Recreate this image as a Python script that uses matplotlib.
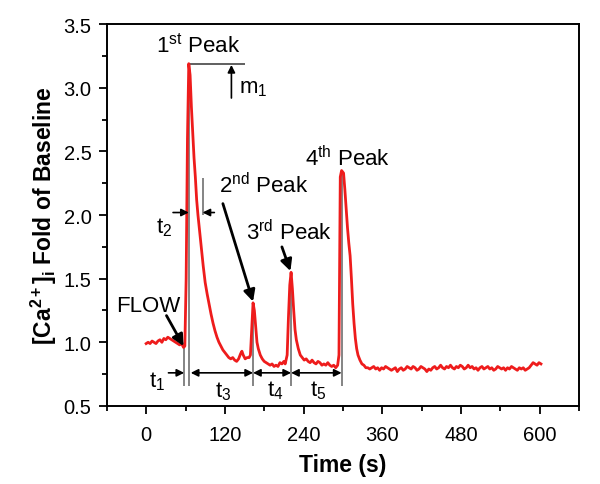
import numpy as np
import matplotlib
matplotlib.use("Agg")
import matplotlib.pyplot as plt
from matplotlib.ticker import MultipleLocator

plt.rcParams['font.family'] = ['Liberation Sans', 'DejaVu Sans']
plt.rcParams['mathtext.fontset'] = 'custom'
plt.rcParams['mathtext.rm'] = 'Liberation Sans'
plt.rcParams['mathtext.it'] = 'Liberation Sans'
plt.rcParams['mathtext.bf'] = 'Liberation Sans:bold'

# ---- data (time in s, [Ca2+]i fold of baseline) ----
time_early = [0, 3, 6, 9, 12, 15, 18, 21, 24, 27, 30, 33, 36, 39, 42, 45, 48, 51, 54, 57, 59,
              61, 63, 65, 67, 69, 71, 73, 75, 77, 79, 81, 83, 85, 87, 90, 93, 96, 99, 102, 105,
              108, 111, 114, 117, 120, 123, 126, 129, 132, 135, 138, 141, 144, 146, 148, 151,
              154, 157, 159, 161, 163, 165, 167, 169, 171, 174, 177, 180, 183, 186, 189, 192,
              195, 198, 201, 204, 207, 210, 212, 215, 217, 219, 221, 223, 225, 227, 229, 232,
              235, 238, 241, 244, 247, 250, 253, 256, 259, 262, 265, 268, 271, 274, 277, 280,
              283, 286, 289, 292, 294, 295, 296, 298, 301, 303, 305, 307, 309, 311, 313, 315,
              317, 319, 321, 323, 326, 329, 332, 335]
ratio_early = [0.99, 1.00, 0.99, 1.01, 1.00, 0.99, 1.01, 1.02, 1.00, 1.03, 1.02, 1.04, 1.03, 1.02,
               1.01, 1.00, 0.99, 0.98, 0.99, 0.96, 0.97,
               1.50, 2.60, 3.19, 3.10, 2.85, 2.65, 2.45, 2.30, 2.12, 2.00, 1.90, 1.80, 1.70, 1.60,
               1.47, 1.38, 1.30, 1.22, 1.15, 1.09, 1.04, 1.00, 0.97, 0.94, 0.92, 0.90, 0.88, 0.87,
               0.88, 0.86, 0.85, 0.87, 0.91, 0.93, 0.90, 0.87, 0.88, 0.88, 0.90, 1.10, 1.31, 1.25,
               1.12, 1.00, 0.95, 0.90, 0.87, 0.85, 0.84, 0.83, 0.82, 0.83, 0.81, 0.82, 0.81, 0.84,
               0.83, 0.85, 0.83, 0.90, 1.20, 1.45, 1.55, 1.42, 1.25, 1.10, 1.02, 0.95, 0.90, 0.88,
               0.86, 0.87, 0.85, 0.84, 0.86, 0.84, 0.83, 0.85, 0.84, 0.82, 0.83, 0.82, 0.84, 0.82,
               0.81, 0.82, 0.80, 0.82, 0.90, 1.60, 2.30, 2.35, 2.33, 2.20, 2.05, 1.90, 1.78, 1.68,
               1.50, 1.30, 1.15, 1.03, 0.95, 0.90, 0.86, 0.83, 0.82, 0.80]
time_late = list(range(338, 603, 3))
ratio_late = [0.80, 0.79, 0.80, 0.81, 0.79, 0.80, 0.78, 0.80, 0.79, 0.81,
              0.80, 0.79, 0.78, 0.79, 0.80, 0.77, 0.79, 0.80, 0.78, 0.79,
              0.81, 0.80, 0.79, 0.81, 0.80, 0.78, 0.79, 0.81, 0.80, 0.79,
              0.77, 0.79, 0.78, 0.80, 0.81, 0.79, 0.80, 0.82, 0.80, 0.79,
              0.81, 0.80, 0.82, 0.80, 0.79, 0.81, 0.80, 0.82, 0.81, 0.79,
              0.80, 0.82, 0.80, 0.81, 0.79, 0.80, 0.78, 0.80, 0.81, 0.79,
              0.80, 0.81, 0.79, 0.80, 0.78, 0.79, 0.81, 0.80, 0.79, 0.80,
              0.78, 0.80, 0.79, 0.81, 0.80, 0.79, 0.78, 0.80, 0.79, 0.80,
              0.78, 0.79, 0.80, 0.82, 0.84, 0.83, 0.82, 0.84, 0.83]

# event markers
flow_t = 58
peak_t = [66, 163, 221, 298]
peak_v = [3.19, 1.31, 1.55, 2.35]
half_t = 87
xticks = [0, 120, 240, 360, 480, 600]
yticks = [0.5, 1.0, 1.5, 2.0, 2.5, 3.0, 3.5]

time = time_early + time_late
ratio = ratio_early + ratio_late

fig = plt.figure(figsize=(6, 4.85), dpi=100)
ax = fig.add_axes([0.178, 0.161, 0.787, 0.787])

gray = '#707070'
line_bot = 0.66
ax.vlines([flow_t] + peak_t, [0.96] + peak_v, line_bot, color=gray, lw=1.2, zorder=1)
ax.vlines(half_t, 2.0, 2.29, color=gray, lw=1.2, zorder=1)

ax.plot(time, ratio, color='#ee1c1c', lw=2, zorder=3)

# m1 marker
ax.hlines(peak_v[0], peak_t[0], 151, color='#444444', lw=1.2, zorder=2)
ap = dict(arrowstyle='-|>', color='black', lw=1.2, mutation_scale=11, shrinkA=0, shrinkB=0)
ap2 = dict(arrowstyle='<|-|>', color='black', lw=1.2, mutation_scale=11, shrinkA=0, shrinkB=0)
ax.annotate('', xy=(130, 3.18), xytext=(130, 2.92), arrowprops=ap)
ax.text(142, 3.0, 'm$_1$', fontsize=16, va='center', ha='left')

# peak labels
fs = 16
ax.text(79, 3.34, '1$^{\\mathrm{st}}$ Peak', fontsize=fs, ha='center', va='center')
ax.text(180, 2.24, '2$^{\\mathrm{nd}}$ Peak', fontsize=fs, ha='center', va='center')
ax.text(218, 1.87, '3$^{\\mathrm{rd}}$ Peak', fontsize=fs, ha='center', va='center')
ax.text(307, 2.45, '4$^{\\mathrm{th}}$ Peak', fontsize=fs, ha='center', va='center')
ax.text(3, 1.29, 'FLOW', fontsize=fs, ha='center', va='center')

big = dict(arrowstyle='-|>', color='black', lw=2, mutation_scale=17, shrinkA=0, shrinkB=0)
ax.annotate('', xy=(163, 1.32), xytext=(117, 2.09), arrowprops=big)
ax.annotate('', xy=(220, 1.56), xytext=(207, 1.75), arrowprops=big)
ax.annotate('', xy=(57, 0.97), xytext=(31, 1.21), arrowprops=big)

# t2
ax.annotate('', xy=(65, 2.02), xytext=(41, 2.02), arrowprops=ap)
ax.annotate('', xy=(86, 2.02), xytext=(104, 2.02), arrowprops=ap)
ax.text(28, 1.91, 't$_2$', fontsize=fs, ha='center', va='center')

# bottom intervals
yb = 0.76
ax.annotate('', xy=(flow_t, yb), xytext=(34, yb), arrowprops=ap)
ax.annotate('', xy=(peak_t[0] + 2, yb), xytext=(peak_t[1], yb), arrowprops=ap2)
ax.annotate('', xy=(peak_t[1], yb), xytext=(peak_t[2], yb), arrowprops=ap2)
ax.annotate('', xy=(peak_t[2], yb), xytext=(peak_t[3], yb), arrowprops=ap2)
ax.text(17, 0.70, 't$_1$', fontsize=fs, ha='center', va='center')
ax.text(118, 0.62, 't$_3$', fontsize=fs, ha='center', va='center')
ax.text(197, 0.63, 't$_4$', fontsize=fs, ha='center', va='center')
ax.text(262, 0.63, 't$_5$', fontsize=fs, ha='center', va='center')

ax.set_xlim(-60, 660)
ax.set_ylim(0.5, 3.5)
ax.set_xticks(xticks)
ax.set_yticks(yticks)
ax.set_yticklabels([f'{v:.1f}' for v in yticks])
ax.xaxis.set_minor_locator(MultipleLocator(60))
ax.yaxis.set_minor_locator(MultipleLocator(0.25))
ax.tick_params(which='major', direction='out', length=6, width=1.3, labelsize=14.5, pad=5)
ax.tick_params(axis='x', which='major', pad=8)
ax.tick_params(which='minor', direction='out', length=3.5, width=1.3)
for s in ax.spines.values():
    s.set_linewidth(1.4)

ax.set_xlabel('Time (s)', fontsize=16.5, fontweight='bold', labelpad=6)
ax.set_ylabel('[Ca$^{\\mathbf{2+}}$]$_{\\mathbf{i}}$ Fold of Baseline', fontsize=16.5,
              fontweight='bold', labelpad=3)

fig.savefig('out.png', dpi=100)
